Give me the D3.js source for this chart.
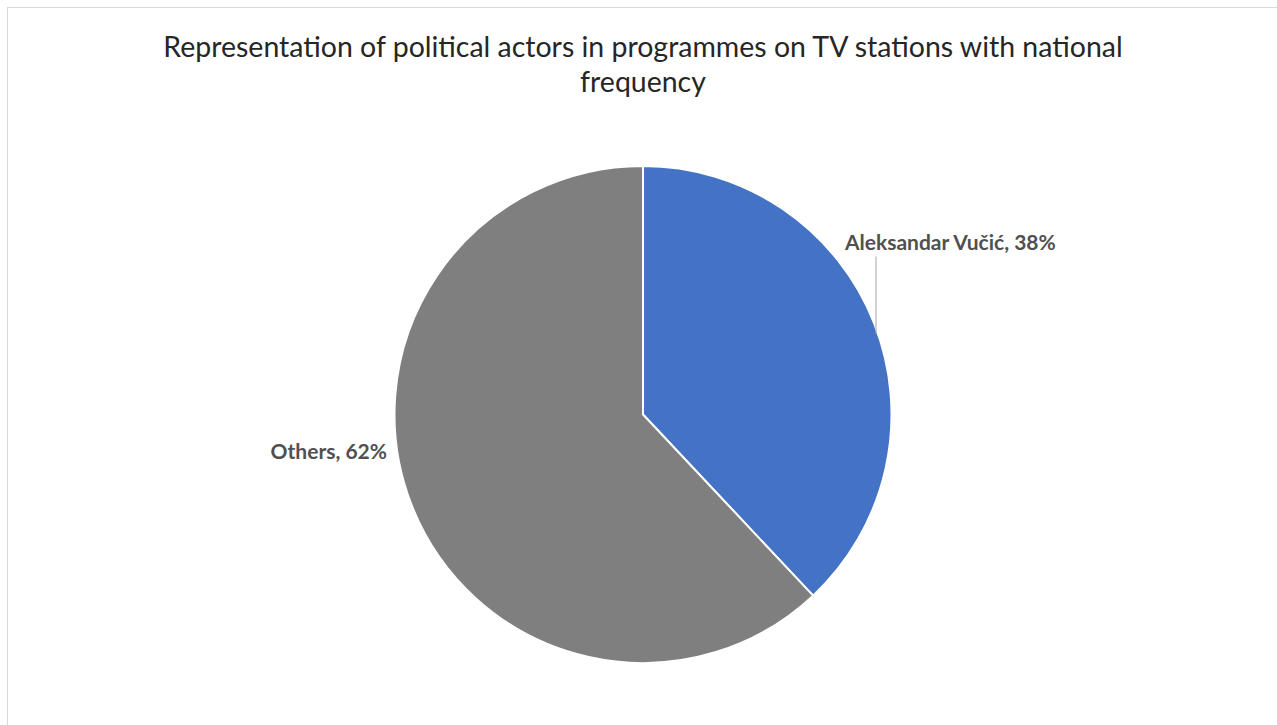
<!DOCTYPE html>
<html>
<head>
<meta charset="utf-8">
<script src="https://cdn.jsdelivr.net/npm/d3@7"></script>
<style>
  html, body { margin: 0; padding: 0; background: #fff; }
  svg { display: block; }
</style>
</head>
<body>
<svg id="chart" width="1277" height="725"></svg>
<script>
// Share of airtime per political actor
const categories = ["Aleksandar Vučić", "Others"];
const shares = [38, 62];
const colors = ["#4472C4", "#7F7F7F"];
const titleLines = ["Representation of political actors in programmes on TV stations with national", "frequency"];

const svg = d3.select("#chart");
const W = 1277, H = 725;

// chart-area frame
svg.append("rect")
  .attr("x", 7.5).attr("y", 7.5)
  .attr("width", W).attr("height", H)
  .attr("fill", "#fff")
  .attr("stroke", "#D9D9D9")
  .attr("stroke-width", 1);

// title, sized so the first line spans the intended width
const title = svg.append("text")
  .attr("text-anchor", "middle")
  .attr("font-family", "Lato, 'Open Sans', sans-serif")
  .attr("font-size", 24)
  .attr("fill", "#262626");
titleLines.forEach((line, i) => {
  title.append("tspan")
    .attr("x", 643)
    .attr("y", 57 + i * 35)
    .text(line);
});
const firstW = title.select("tspan").node().getComputedTextLength();
title.attr("font-size", 24 * 960 / firstW);

// pie
const cx = 643, cy = 414.5, R = 248.5;
const g = svg.append("g").attr("transform", `translate(${cx},${cy})`);

const pie = d3.pie().sort(null).value(d => d.value);
const data = categories.map((c, i) => ({ name: c, value: shares[i], color: colors[i] }));
const arcs = pie(data);
const arc = d3.arc().innerRadius(0).outerRadius(R);

g.selectAll("path")
  .data(arcs)
  .join("path")
  .attr("d", arc)
  .attr("fill", d => d.data.color)
  .attr("stroke", "#fff")
  .attr("stroke-width", 2)
  .attr("stroke-linejoin", "round");

// data labels
const labelFont = "Lato, 'Open Sans', sans-serif";
const labelColor = "#505050";
const labelSize = 21;

// first slice: label above-right with a vertical leader line
const a0 = arcs[0];
const leaderX = 233;
const leaderEndY = -Math.sqrt(R * R - leaderX * leaderX);
g.append("line")
  .attr("x1", leaderX).attr("x2", leaderX)
  .attr("y1", -158).attr("y2", leaderEndY + 6)
  .attr("stroke", "#A6A6A6")
  .attr("stroke-width", 1);

g.append("text")
  .attr("x", 202).attr("y", -165)
  .attr("font-family", labelFont)
  .attr("font-weight", "bold")
  .attr("font-size", labelSize)
  .attr("fill", labelColor)
  .text(`${a0.data.name}, ${a0.data.value}%`);

// second slice: label just outside the left edge
const a1 = arcs[1];
g.append("text")
  .attr("x", -256).attr("y", 44)
  .attr("text-anchor", "end")
  .attr("font-family", labelFont)
  .attr("font-weight", "bold")
  .attr("font-size", labelSize)
  .attr("fill", labelColor)
  .text(`${a1.data.name}, ${a1.data.value}%`);
</script>
</body>
</html>
